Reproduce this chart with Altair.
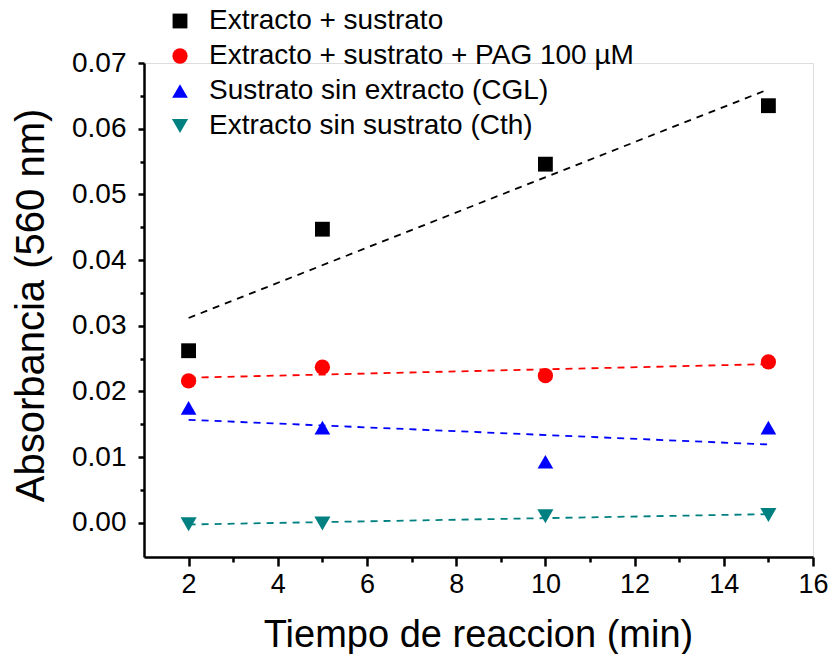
import altair as alt
import pandas as pd

series = [
    "Extracto + sustrato",
    "Extracto + sustrato + PAG 100 µM",
    "Sustrato sin extracto (CGL)",
    "Extracto sin sustrato (Cth)",
]
tiempo = [2, 5, 10, 15]
abs_es = [0.0262, 0.0447, 0.0546, 0.0635]
abs_pag = [0.0216, 0.0237, 0.0224, 0.0245]
abs_cgl = [0.0175, 0.0145, 0.0093, 0.0145]
abs_cth = [-0.0002, -0.0001, 0.0010, 0.0012]

colors = ["#000000", "#FF0000", "#0000FF", "#008080"]
shapes = ["square", "circle", "triangle-up", "triangle-down"]
sizes = [220, 260, 420, 420]

x_major = [2, 4, 6, 8, 10, 12, 14, 16]
x_minor = [3, 5, 7, 9, 11, 13, 15]
y_major = [0.00, 0.01, 0.02, 0.03, 0.04, 0.05, 0.06, 0.07]
y_minor = [0.005, 0.015, 0.025, 0.035, 0.045, 0.055, 0.065]

rows = []
for s, vals in zip(series, [abs_es, abs_pag, abs_cgl, abs_cth]):
    for t, v in zip(tiempo, vals):
        rows.append({"Serie": s, "Tiempo": t, "Absorbancia": v})
df = pd.DataFrame(rows)

FONT = "Liberation Sans"

xscale = alt.Scale(domain=[1, 16], nice=False, zero=False)
yscale = alt.Scale(domain=[-0.0052, 0.07], nice=False, zero=False)

legend_cfg = dict(title=None, orient="none", legendX=22, legendY=-56,
                  labelFont=FONT, labelFontSize=28, labelColor="black",
                  labelLimit=1000, symbolStrokeWidth=0,
                  labelOffset=15, rowPadding=7, symbolOpacity=1)

base = alt.Chart(df)

points = base.mark_point(filled=True, opacity=1, strokeWidth=0).encode(
    x=alt.X("Tiempo:Q", scale=xscale, axis=alt.Axis(
        values=x_major, title="Tiempo de reaccion (min)", orient="bottom",
        grid=False, tickSize=9, tickWidth=2.5, domainWidth=2.5,
        domainColor="black", tickColor="black", labelFontSize=27,
        labelFont=FONT, labelColor="black", labelPadding=5,
        titleFont=FONT, titleFontSize=38, titleFontWeight="normal",
        titleColor="black", titleBaseline="alphabetic", titleY=89,
        titleX=334, titleAnchor="middle", titleAlign="center", labelFlush=False)),
    y=alt.Y("Absorbancia:Q", scale=yscale, axis=alt.Axis(
        values=y_major, format=".2f", title="Absorbancia (560 nm)", orient="left",
        grid=False, tickSize=6, tickWidth=2.5, domainWidth=2.5,
        domainColor="black", tickColor="black", labelFontSize=28,
        labelFont=FONT, labelColor="black", labelPadding=12,
        titleFont=FONT, titleFontSize=40, titleFontWeight="normal",
        titleColor="black", titleBaseline="alphabetic", titleX=-101,
        titleY=242, titleAngle=-90, titleAlign="center", labelFlush=False)),
    color=alt.Color("Serie:N", scale=alt.Scale(domain=series, range=colors),
                    sort=series, legend=alt.Legend(**legend_cfg)),
    shape=alt.Shape("Serie:N", scale=alt.Scale(domain=series, range=shapes),
                    sort=series, legend=alt.Legend(**legend_cfg)),
    size=alt.Size("Serie:N", scale=alt.Scale(domain=series, range=sizes),
                  sort=series, legend=alt.Legend(**legend_cfg)),
)

lines = base.transform_regression(
    "Tiempo", "Absorbancia", groupby=["Serie"]
).mark_line(strokeDash=[7, 6], strokeWidth=1.8).encode(
    x=alt.X("Tiempo:Q", scale=xscale, axis=alt.Axis(
        values=x_minor, orient="bottom", labels=False, title=None,
        grid=False, tickSize=5, tickWidth=2.5, domain=False, tickColor="black")),
    y=alt.Y("Absorbancia:Q", scale=yscale, axis=alt.Axis(
        values=y_minor, orient="left", labels=False, title=None,
        grid=False, tickSize=4, tickWidth=2.5, domain=False, tickColor="black")),
    stroke=alt.Stroke("Serie:N",
                      scale=alt.Scale(domain=series[::-1], range=colors[::-1]),
                      legend=None),
)

chart = alt.layer(lines, points).resolve_axis(
    x="independent", y="independent"
).resolve_legend(stroke="independent").properties(
    width=669, height=494,
    autosize=alt.AutoSizeParams(type="none"),
    padding={"left": 136, "top": 55, "right": 15, "bottom": 97},
).configure_view(stroke=None).configure(background="white")

chart.save("out.html", embed_options={"renderer": "svg", "actions": False})
